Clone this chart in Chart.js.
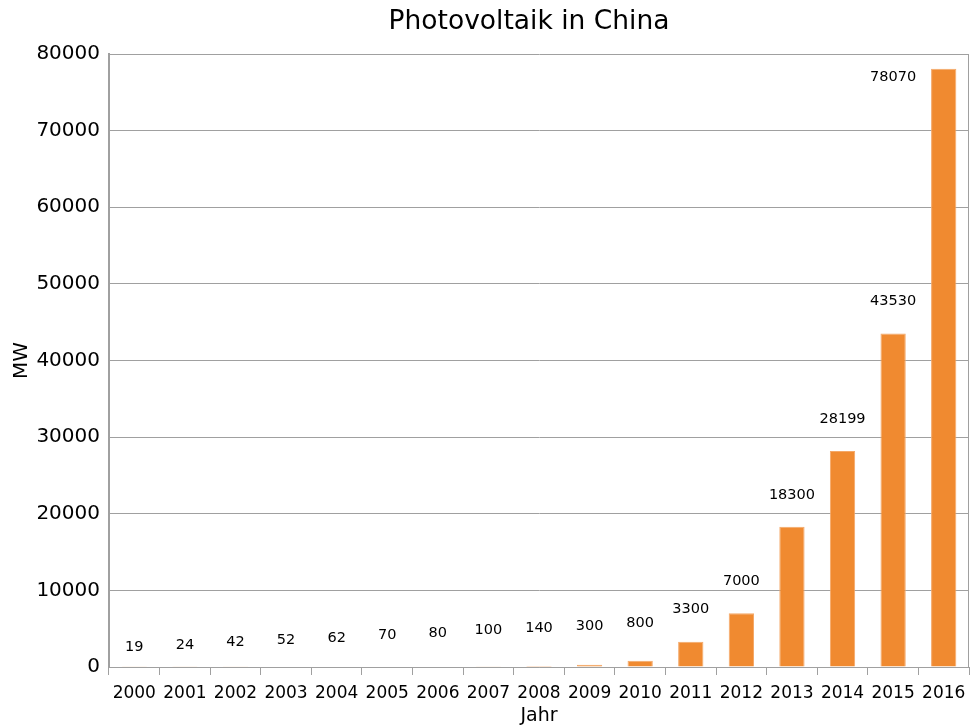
<!DOCTYPE html>
<html>
<head>
<meta charset="utf-8">
<script src="https://cdn.jsdelivr.net/npm/chart.js@4/dist/chart.umd.min.js"></script>
<style>
  html, body { margin: 0; padding: 0; background: #fff; }
  #wrap { width: 970px; height: 727px; }
</style>
</head>
<body>
<div id="wrap"><canvas id="c" width="970" height="727"></canvas></div>
<script>
// Installed photovoltaic capacity in China (MW), by year
const years = ['2000','2001','2002','2003','2004','2005','2006','2007','2008',
               '2009','2010','2011','2012','2013','2014','2015','2016'];
const capacityMW = [19, 24, 42, 52, 62, 70, 80, 100, 140, 300, 800, 3300, 7000,
                    18300, 28199, 43530, 78070];
const yMin = 0, yMax = 80000, yStep = 10000;
const chartTitle = 'Photovoltaik in China';

const FONT = "'DejaVu Sans', 'Liberation Sans', sans-serif";
const GRID = '#a0a0a0';

// Value labels above the bars; very short bars get a gently rising row of labels,
// and a label that would hit the top edge moves beside its bar
const valueLabels = {
  id: 'valueLabels',
  afterDatasetsDraw(chart) {
    const ctx = chart.ctx;
    const area = chart.chartArea;
    const meta = chart.getDatasetMeta(0);
    const xScale = chart.scales.x;
    const catW = (xScale.right - xScale.left) / years.length;
    ctx.save();
    ctx.font = '14.5px ' + FONT;
    ctx.fillStyle = '#000';
    ctx.textAlign = 'center';
    ctx.textBaseline = 'middle';
    meta.data.forEach((bar, i) => {
      const base = bar.base;
      const h = base - bar.y;
      const stagger = base - 19 - 2.4 * i;
      let x = bar.x;
      let y = h < 20 ? stagger : Math.min(stagger, bar.y - 32);
      if (y < area.top + 10) {
        x = bar.x - catW;
        y = bar.y + 8;
      }
      ctx.fillText(String(capacityMW[i]), x, y);
    });
    ctx.restore();
  }
};

// Right-hand frame line of the plot area and the chart title
const frame = {
  id: 'frame',
  beforeDatasetsDraw(chart) {
    const { ctx, chartArea: a } = chart;
    ctx.save();
    ctx.strokeStyle = GRID;
    ctx.lineWidth = 1;
    ctx.beginPath();
    ctx.moveTo(Math.round(a.right) - 0.5, a.top);
    ctx.lineTo(Math.round(a.right) - 0.5, a.bottom);
    ctx.stroke();
    ctx.restore();
  },
  afterDraw(chart) {
    const { ctx, chartArea: a } = chart;
    ctx.save();
    ctx.font = '26.5px ' + FONT;
    ctx.fillStyle = '#000';
    ctx.textAlign = 'center';
    ctx.textBaseline = 'middle';
    ctx.fillText(chartTitle, (a.left + a.right) / 2 - 10, 22);
    ctx.restore();
  }
};

new Chart(document.getElementById('c'), {
  type: 'bar',
  data: {
    labels: years,
    datasets: [{
      data: capacityMW,
      backgroundColor: '#f08a30',
      borderColor: '#f4a868',
      borderWidth: 1,
      borderSkipped: 'bottom',
      categoryPercentage: 1.0,
      barPercentage: 0.5
    }]
  },
  options: {
    responsive: false,
    animation: false,
    devicePixelRatio: 1,
    layout: { padding: { left: 0, right: 1, top: 54, bottom: 0 } },
    plugins: {
      legend: { display: false },
      tooltip: { enabled: false },
      title: { display: false }
    },
    scales: {
      x: {
        offset: true,
        grid: {
          display: true,
          offset: true,
          drawOnChartArea: false,
          drawTicks: true,
          tickLength: 8,
          color: GRID
        },
        border: { display: true, color: GRID, width: 1 },
        ticks: {
          color: '#000',
          font: { family: FONT, size: 17 },
          padding: 8,
          maxRotation: 0,
          autoSkip: false
        },
        title: {
          display: true,
          text: 'Jahr',
          color: '#000',
          font: { family: FONT, size: 19 },
          padding: { top: 0, bottom: 0 }
        },
        afterFit(scale) {
          scale.height = 60;
          scale.paddingLeft = 0;
          scale.paddingRight = 0;
        }
      },
      y: {
        min: yMin,
        max: yMax,
        grid: { color: GRID, drawTicks: false, lineWidth: 1 },
        border: { display: true, color: GRID, width: 2 },
        ticks: {
          stepSize: yStep,
          color: '#000',
          font: { family: FONT, size: 20 },
          padding: 9,
          callback: (v) => String(v)
        },
        title: {
          display: true,
          text: 'MW',
          color: '#000',
          font: { family: FONT, size: 20 },
          padding: { top: 10, bottom: 0 }
        },
        afterFit(scale) { scale.width = 109; }
      }
    }
  },
  plugins: [frame, valueLabels]
});
</script>
</body>
</html>
